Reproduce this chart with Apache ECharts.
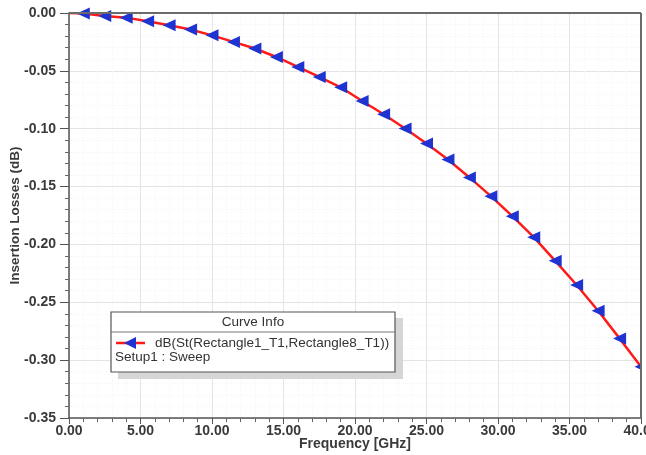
<!DOCTYPE html>
<html>
<head>
<meta charset="utf-8">
<script src="https://cdn.jsdelivr.net/npm/echarts@6/dist/echarts.min.js"></script>
<style>
  html, body { margin: 0; padding: 0; background: #fff; }
  #chart { width: 646px; height: 455px; }
</style>
</head>
<body>
<div id="chart"></div>
<script>
// Sweep frequencies (GHz) and insertion loss of the S21-type trace (dB)
const freqGHz = [0, 1, 2.5, 4, 5.5, 7, 8.5, 10, 11.5, 13, 14.5, 16, 17.5, 19, 20.5, 22,
  23.5, 25, 26.5, 28, 29.5, 31, 32.5, 34, 35.5, 37, 38.5, 40];
const lossDb = [0, -0.0005, -0.0026, -0.0040, -0.0072, -0.0106, -0.0143, -0.0193, -0.0250,
  -0.0307, -0.0380, -0.0466, -0.0553, -0.0642, -0.0760, -0.0875, -0.0998, -0.1128,
  -0.1266, -0.1421, -0.1583, -0.1756, -0.1937, -0.2142, -0.2351, -0.2573, -0.2812, -0.3057];
const traceName = 'dB(St(Rectangle1_T1,Rectangle8_T1))';
const setupName = 'Setup1 : Sweep';

const FONT = 'Arial, "Liberation Sans", sans-serif';
const chart = echarts.init(document.getElementById('chart'), null, { renderer: 'canvas' });

const seriesData = freqGHz.map((f, i) => i === 0
  ? { value: [f, lossDb[i]], symbol: 'none' }
  : { value: [f, lossDb[i]] });

const gridL = 69, gridT = 13, gridR = 5, gridB = 37;

chart.setOption({
  animation: false,
  backgroundColor: '#ffffff',
  grid: { left: gridL, top: gridT, right: gridR, bottom: gridB, show: false,
    containLabel: false, outerBoundsMode: 'none' },
  xAxis: {
    type: 'value', min: 0, max: 40, interval: 5,
    name: 'Frequency [GHz]', nameLocation: 'middle', nameGap: 19, nameMoveOverlap: false,
    nameTextStyle: { fontFamily: FONT, fontSize: 14, fontWeight: 'bold', color: '#3a3a3a' },
    axisLine: { show: true, onZero: false, lineStyle: { color: '#555', width: 1.5 } },
    axisTick: { show: true, length: 6, lineStyle: { color: '#555' } },
    minorTick: { show: true, splitNumber: 5, length: 4, lineStyle: { color: '#666' } },
    axisLabel: { fontFamily: FONT, fontSize: 14, fontWeight: 'bold', color: '#3a3a3a', margin: 6,
      formatter: v => v.toFixed(2) },
    splitLine: { show: true, lineStyle: { color: '#e4e4e4', width: 1 } },
    minorSplitLine: { show: true, lineStyle: { color: '#f6f6f6', width: 1, type: 'dotted' } }
  },
  yAxis: {
    type: 'value', min: -0.35, max: 0, interval: 0.05,
    name: 'Insertion Losses (dB)', nameLocation: 'middle', nameGap: 47, nameMoveOverlap: false,
    nameTextStyle: { fontFamily: FONT, fontSize: 13.5, fontWeight: 'bold', color: '#3a3a3a' },
    axisLine: { show: true, onZero: false, lineStyle: { color: '#555', width: 1.5 } },
    axisTick: { show: true, length: 9, lineStyle: { color: '#555' } },
    minorTick: { show: true, splitNumber: 5, length: 4, lineStyle: { color: '#666' } },
    axisLabel: { fontFamily: FONT, fontSize: 14, fontWeight: 'bold', color: '#3a3a3a', margin: 13,
      formatter: v => v.toFixed(2) },
    splitLine: { show: true, lineStyle: { color: '#e4e4e4', width: 1 } },
    minorSplitLine: { show: true, lineStyle: { color: '#f6f6f6', width: 1, type: 'dotted' } }
  },
  series: [{
    type: 'line',
    name: traceName,
    data: seriesData,
    smooth: false,
    clip: true,
    lineStyle: { color: '#ff1a1a', width: 2.5 },
    symbol: 'triangle',
    symbolRotate: 90,
    symbolSize: [12, 13],
    itemStyle: { color: '#1e33d0', borderWidth: 0 },
    z: 3
  }],
  graphic: [
    // plot frame: top and right borders
    { type: 'line', z: 10, shape: { x1: gridL, y1: gridT, x2: 646 - gridR, y2: gridT },
      style: { stroke: '#6b6b6b', lineWidth: 2 } },
    { type: 'line', z: 10, shape: { x1: 646 - gridR, y1: gridT, x2: 646 - gridR, y2: 455 - gridB },
      style: { stroke: '#6b6b6b', lineWidth: 2 } },
    // white strip right of the frame trims the last marker
    { type: 'rect', z: 9, shape: { x: 646 - gridR + 1, y: gridT, width: gridR, height: 455 - gridB - gridT },
      style: { fill: '#ffffff' } },
    // legend shadow
    { type: 'rect', z: 20, shape: { x: 118, y: 318, width: 285, height: 61 },
      style: { fill: '#d6d6d6' } },
    // legend box
    { type: 'rect', z: 21, shape: { x: 111, y: 312, width: 284, height: 60 },
      style: { fill: '#ffffff', stroke: '#555', lineWidth: 1.2 } },
    { type: 'line', z: 22, shape: { x1: 111, y1: 332, x2: 395, y2: 332 },
      style: { stroke: '#777', lineWidth: 1 } },
    { type: 'text', z: 22, style: { x: 253, y: 322.5, text: 'Curve Info', align: 'center',
      verticalAlign: 'middle', font: '13.5px ' + FONT, fill: '#333' } },
    { type: 'line', z: 22, shape: { x1: 116, y1: 343, x2: 145, y2: 343 },
      style: { stroke: '#ff1a1a', lineWidth: 2.5 } },
    { type: 'polygon', z: 23, shape: { points: [[124, 343], [136, 337], [136, 349]] },
      style: { fill: '#1e33d0' } },
    { type: 'text', z: 22, style: { x: 155, y: 343, text: traceName, align: 'left',
      verticalAlign: 'middle', font: '13.5px ' + FONT, fill: '#333' } },
    { type: 'text', z: 22, style: { x: 115, y: 357, text: setupName, align: 'left',
      verticalAlign: 'middle', font: '13.5px ' + FONT, fill: '#333' } }
  ]
});
</script>
</body>
</html>
